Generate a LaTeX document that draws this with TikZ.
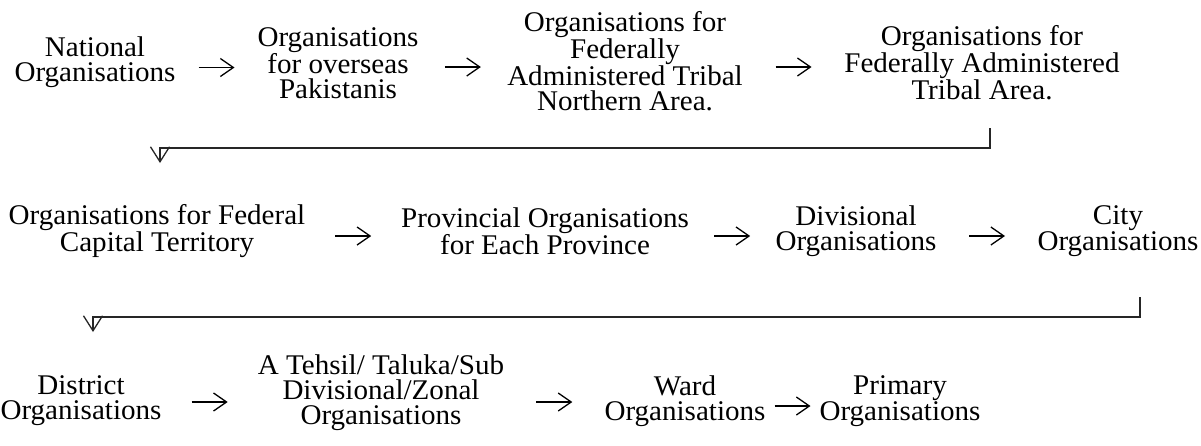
\documentclass[tikz,border=0pt]{standalone}
\usepackage{fontspec}
\setmainfont[FakeStretch=1.02]{Liberation Serif}
\usetikzlibrary{arrows.meta,calc}
\begin{document}
\begin{tikzpicture}[x=1pt,y=-1pt,
  org/.style={align=center,inner sep=0pt,font=\fontsize{28.5}{25}\selectfont},
  flow/.style={line width=1.3pt,-{Straight Barb[length=13pt,width=18pt,line width=1.3pt]}},
  wrap/.style={line width=1.5pt,draw=black!85,-{Straight Barb[length=15pt,width=19pt,line width=1.3pt]}}]
\useasboundingbox (0,0) rectangle (1201,445);

% first row
\node[org] (n1) at (95,62)  {National\\Organisations};
\node[org] (n2) at (338,63) {Organisations\\for overseas\\Pakistanis};
\node[org] (n3) at (625,61) {Organisations for\\Federally\\Administered Tribal\\Northern Area.};
\node[org] (n4) at (982,63) {Organisations for\\Federally Administered\\Tribal Area.};

% second row
\node[org] (m1) at (157,231)  {Organisations for Federal\\Capital Territory};
\node[org] (m2) at (545,231)  {Provincial Organisations\\for Each Province};
\node[org] (m3) at (856,231)  {Divisional\\Organisations};
\node[org] (m4) at (1118,231) {City\\Organisations};

% third row
\node[org] (k1) at (81,401)  {District\\Organisations};
\node[org] (k2) at (381,393) {A Tehsil/ Taluka/Sub\\Divisional/Zonal\\Organisations};
\node[org] (k3) at (685,401) {Ward\\Organisations};
\node[org] (k4) at (900,401) {Primary\\Organisations};

% short arrows between neighbours in a row
\newcommand\flowstep[2]{\draw[flow] ($(#1.east)!.5!(#2.west)+(-18,5)$) -- ($(#1.east)!.5!(#2.west)+(18,5)$);}
\flowstep{n1}{n2}
\flowstep{n2}{n3}
\flowstep{n3}{n4}
\flowstep{m1}{m2}
\flowstep{m2}{m3}
\flowstep{m3}{m4}
\flowstep{k1}{k2}
\flowstep{k2}{k3}
\flowstep{k3}{k4}

% return lines from the end of one row to the start of the next
\coordinate (r1s) at (990,128);
\coordinate (r1e) at (160,163);
\draw[wrap] (r1s) -- (990,148) -| (r1e);
\coordinate (r2s) at (1140,297);
\coordinate (r2e) at (93,332);
\draw[wrap] (r2s) -- (1140,317) -| (r2e);
\end{tikzpicture}
\end{document}
